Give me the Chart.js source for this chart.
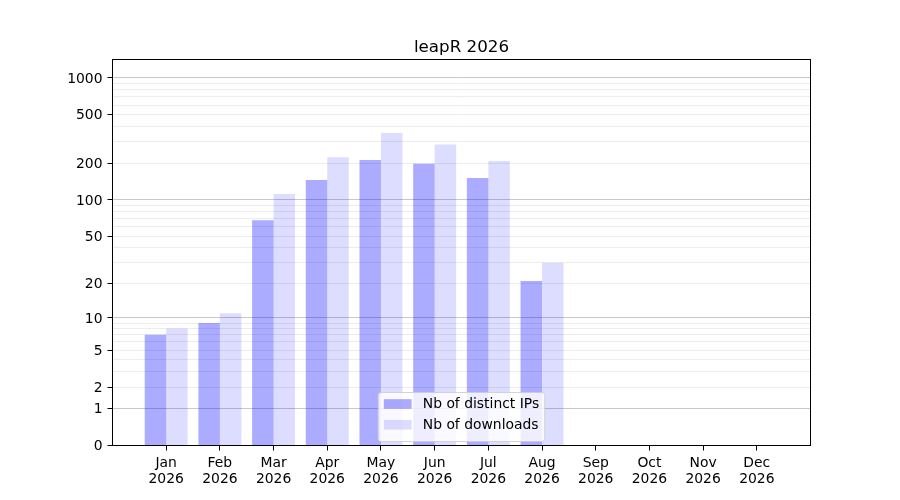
<!DOCTYPE html>
<html>
<head>
<meta charset="utf-8">
<script src="https://cdn.jsdelivr.net/npm/chart.js@4.4.1/dist/chart.umd.min.js"></script>
<style>
  html, body { margin: 0; padding: 0; background: #fff; }
  canvas { display: block; }
</style>
</head>
<body>
<canvas id="chart" width="900" height="500"></canvas>
<script>
// leapR 2026 - monthly distinct IPs / downloads, symlog-like y axis (log10(1 + v))

const months = ['Jan', 'Feb', 'Mar', 'Apr', 'May', 'Jun', 'Jul', 'Aug', 'Sep', 'Oct', 'Nov', 'Dec'];
const year = '2026';
const distinctIps = [7, 9, 68, 146, 213, 199, 152, 21, 0, 0, 0, 0];
const downloads = [8, 11, 112, 225, 355, 285, 209, 30, 0, 0, 0, 0];

const yLabelValues = [0, 1, 2, 5, 10, 20, 50, 100, 200, 500, 1000];
const yGridValues = [0, 1, 2, 3, 4, 5, 6, 7, 8, 9,
  10, 20, 30, 40, 50, 60, 70, 80, 90,
  100, 200, 300, 400, 500, 600, 700, 800, 900, 1000];
const yMajorValues = [1, 10, 100, 1000];
const yTop = 1415;

const ipColor = 'rgba(0, 0, 255, 0.33)';
const dlColor = 'rgba(0, 0, 255, 0.135)';
const font = '"DejaVu Sans", sans-serif';

// échelle : log10(1 + v)
function sl(v) {
  return Math.log10(1 + v);
}

function toPoints(values) {
  return values.map((v, i) => ({ x: i, y: sl(v) }));
}

// cadre, titre et légende dessinés à la main
const decorations = {
  id: 'decorations',
  afterDraw(chart) {
    const { ctx, chartArea: a } = chart;
    ctx.save();

    // cadre complet (4 côtés)
    ctx.strokeStyle = '#000';
    ctx.lineWidth = 1;
    ctx.strokeRect(a.left, a.top, a.right - a.left, a.bottom - a.top);

    // titre
    const cx = (a.left + a.right) / 2;
    ctx.fillStyle = '#000';
    ctx.font = `16.7px ${font}`;
    ctx.textAlign = 'center';
    ctx.textBaseline = 'alphabetic';
    ctx.fillText('leapR 2026', cx, a.top - 7.5);

    // légende
    const fs = 13.9;
    ctx.font = `${fs}px ${font}`;
    const items = [
      { label: 'Nb of distinct IPs', color: ipColor },
      { label: 'Nb of downloads', color: dlColor },
    ];
    const textW = Math.max(...items.map((it) => ctx.measureText(it.label).width));
    const pad = 0.4 * fs;
    const handleW = 2 * fs;
    const handleH = 0.7 * fs;
    const gap = 0.8 * fs;
    const boxW = pad * 2 + handleW + gap + textW;
    const boxH = 49;
    const bx = cx - boxW / 2;
    const by = a.bottom - 4 - boxH;

    ctx.beginPath();
    ctx.roundRect(bx, by, boxW, boxH, 3);
    ctx.fillStyle = 'rgba(255, 255, 255, 0.8)';
    ctx.fill();
    ctx.strokeStyle = 'rgba(204, 204, 204, 0.8)';
    ctx.stroke();

    ctx.textAlign = 'left';
    ctx.textBaseline = 'middle';
    items.forEach((it, i) => {
      const rowY = by + 11.5 + i * 20.75;
      ctx.fillStyle = it.color;
      ctx.fillRect(bx + pad, rowY - handleH / 2, handleW, handleH);
      ctx.fillStyle = '#000';
      ctx.fillText(it.label, bx + pad + handleW + gap, rowY + 0.5);
    });

    ctx.restore();
  },
};

new Chart(document.getElementById('chart'), {
  type: 'bar',
  data: {
    datasets: [
      {
        label: 'Nb of distinct IPs',
        data: toPoints(distinctIps),
        backgroundColor: ipColor,
        borderWidth: 0,
        categoryPercentage: 0.8,
        barPercentage: 1.0,
      },
      {
        label: 'Nb of downloads',
        data: toPoints(downloads),
        backgroundColor: dlColor,
        borderWidth: 0,
        categoryPercentage: 0.8,
        barPercentage: 1.0,
      },
    ],
  },
  options: {
    responsive: false,
    animation: false,
    devicePixelRatio: 1,
    layout: { padding: { top: 59.5, right: 89.5, left: 0, bottom: 0 } },
    plugins: {
      legend: { display: false },
      title: { display: false },
      tooltip: { enabled: false },
    },
    scales: {
      x: {
        type: 'linear',
        min: -1,
        max: months.length,
        offset: false,
        border: { display: false },
        grid: {
          offset: false,
          color: 'rgba(0,0,0,0)',
          tickColor: '#000',
          tickLength: 5,
          tickWidth: 1,
        },
        afterBuildTicks: (axis) => {
          axis.ticks = months.map((_, i) => ({ value: i }));
        },
        afterFit: (axis) => {
          axis.height = 54.5;
        },
        ticks: {
          autoSkip: false,
          maxRotation: 0,
          padding: 5,
          color: '#000',
          font: { family: font, size: 13.9, lineHeight: 1.15 },
          callback: (value, index) => [months[index], year],
        },
      },
      y: {
        type: 'linear',
        min: 0,
        max: sl(yTop),
        border: { display: false },
        grid: {
          color: (c) => {
            const v = yGridValues[c.index];
            if (v === 0) return 'rgba(0,0,0,0)';
            return yMajorValues.includes(v) ? '#c8c8c8' : '#ececec';
          },
          tickColor: (c) => (yLabelValues.includes(yGridValues[c.index]) ? '#000' : 'rgba(0,0,0,0)'),
          tickLength: 5,
          tickWidth: 1,
          lineWidth: 1,
        },
        afterBuildTicks: (axis) => {
          axis.ticks = yGridValues.map((v) => ({ value: sl(v) }));
        },
        afterFit: (axis) => {
          axis.width = 112.5;
        },
        ticks: {
          autoSkip: false,
          padding: 5,
          labelOffset: 1,
          color: '#000',
          font: { family: font, size: 13.9 },
          callback: (value, index) => {
            const v = yGridValues[index];
            return yLabelValues.includes(v) ? String(v) : '';
          },
        },
      },
    },
  },
  plugins: [decorations],
});
</script>
</body>
</html>
